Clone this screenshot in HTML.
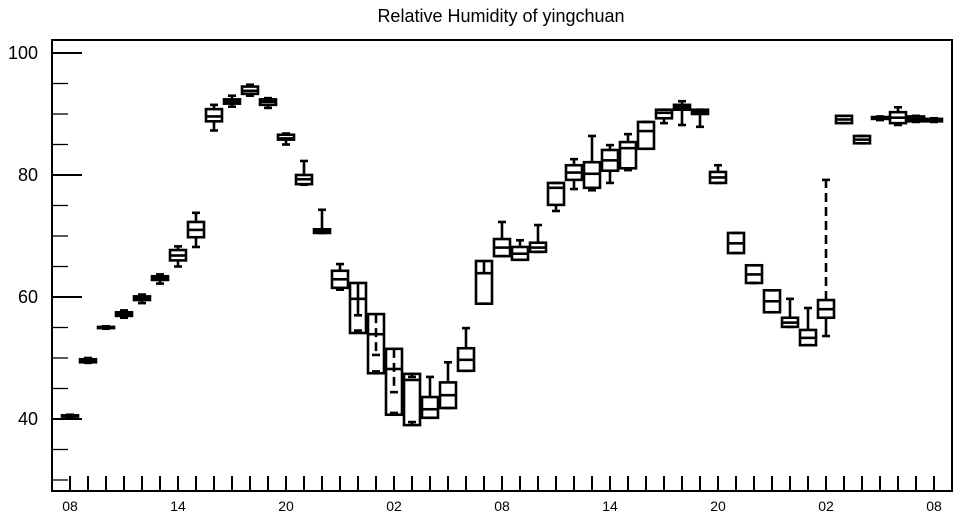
<!DOCTYPE html>
<html><head><meta charset="utf-8"><style>
body{margin:0;background:#fff}
svg{display:block;font-family:"Liberation Sans",sans-serif}
</style></head><body>
<svg id="chart" width="957" height="520">
<text x="501" y="22" text-anchor="middle" font-size="18">Relative Humidity of yingchuan</text>
<g id="axes"></g><g id="boxes"></g>
</svg>
<script>
const xLabels=["08","14","20","02","08","14","20","02","08"];
const yTicks=[40,60,80,100];
const mins=[40.3,49.2,54.8,56.6,59,62.2,65,68.2,87.3,91.2,93,91,85,78.4,70.5,61.2,54.5,47.8,41,39.5,40.2,41.8,47.9,58.9,66.7,66.1,67.4,74.1,77.7,77.5,78.7,80.8,84.3,88.5,88.2,87.9,78.7,67.2,62.3,57.5,55.1,52.1,53.6,88.5,85.2,89,88.2,88.7,88.7];
const q1s=[40.4,49.3,54.9,56.9,59.5,62.8,66,69.8,88.8,91.7,93.3,91.5,85.8,78.5,70.5,61.5,54.1,47.5,40.7,39,40.2,41.8,47.9,58.9,66.7,66.1,67.4,75.1,79.2,77.9,80.7,81.1,84.3,89.3,90.7,90,78.7,67.2,62.3,57.5,55.1,52.1,56.6,88.5,85.2,89.2,88.5,88.8,88.8];
const medians=[40.5,49.5,55,57.2,59.8,63.1,66.8,71,89.6,92,93.8,92,86,79.3,70.8,62.9,59.7,53.9,48.2,46.4,41.6,43.9,49.7,63.9,68.1,67.1,68.1,77.9,80.4,80.2,82.4,84.4,87.2,90.2,91.1,90.3,79.6,68.8,63.7,59.3,55.8,53.3,58,89.1,85.8,89.3,89.4,89.2,89];
const q3s=[40.6,49.8,55.1,57.5,60.1,63.4,67.7,72.3,90.8,92.4,94.5,92.4,86.6,80,71.1,64.3,62.3,57.2,51.5,47.4,43.6,46,51.6,65.9,69.5,68.2,68.9,78.7,81.6,82.1,84.1,85.4,88.7,90.7,91.5,90.7,80.5,70.5,65.2,61.1,56.6,54.6,59.5,89.7,86.4,89.5,90.3,89.6,89.2];
const maxs=[40.7,50,55.2,57.8,60.4,63.7,68.3,73.8,91.5,93,94.8,92.6,86.8,82.3,74.3,65.4,57,50.5,44.4,46.9,46.9,49.3,54.9,63.9,72.3,69.3,71.8,78.7,82.6,86.4,84.9,86.7,88.7,90.7,92.1,90.7,81.6,70.5,65.2,61.1,59.7,58.2,79.2,89.7,86.4,89.6,91.1,89.7,89.3];
const NS="http://www.w3.org/2000/svg";
const L=52,R=952,T=40,B=491,X0=70,DX=18;
function yS(v){return 419-(v-40)*6.1;}
function xS(i){return X0+DX*i;}
function mk(tag,attrs,parent){const e=document.createElementNS(NS,tag);for(const k in attrs)e.setAttribute(k,attrs[k]);parent.appendChild(e);return e;}
const ax=document.getElementById('axes'),bx=document.getElementById('boxes');
const frame=mk('rect',{x:L,y:T,width:R-L,height:B-T,fill:'none',stroke:'#000','stroke-width':2},ax);


for(let v=30;v<=100;v+=5){
 const major=yTicks.includes(v);
 const t=mk('line',{x1:L,x2:L+(major?30:16),y1:yS(v),y2:yS(v),stroke:'#000','stroke-width':major?2:1.3},ax);
 
 
}
yTicks.forEach(v=>{
 const t=mk('text',{x:38,y:yS(v)+6,'text-anchor':'end','font-size':18},ax);t.textContent=v;
 
 
});
for(let i=0;i<mins.length;i++){
 const t=mk('line',{x1:xS(i),x2:xS(i),y1:B,y2:B-15,stroke:'#000','stroke-width':2},ax);
 
 
}
xLabels.forEach((s,k)=>{
 const t=mk('text',{x:xS(k*6),y:511,'text-anchor':'middle','font-size':14},ax);t.textContent=s;
 
 
});
for(let i=0;i<mins.length;i++){
 const g=mk('g',{stroke:'#000','stroke-width':2.6,fill:'none'},bx);
 
 
 const x=xS(i);
 const up=Math.abs(yS(q3s[i])-yS(maxs[i])), dn=Math.abs(yS(q1s[i])-yS(mins[i]));
 mk('line',{x1:x,x2:x,y1:yS(q3s[i]),y2:yS(maxs[i]),'stroke-dasharray':up>40?'9,5':'none'},g);
 mk('line',{x1:x,x2:x,y1:yS(q1s[i]),y2:yS(mins[i]),'stroke-dasharray':dn>40?'9,5':'none'},g);
 mk('line',{x1:x-4,x2:x+4,y1:yS(maxs[i]),y2:yS(maxs[i])},g);
 mk('line',{x1:x-4,x2:x+4,y1:yS(mins[i]),y2:yS(mins[i])},g);
 mk('rect',{x:x-8,y:yS(q3s[i]),width:16,height:Math.max(1,yS(q1s[i])-yS(q3s[i])),fill:'none'},g);
 mk('line',{x1:x-8,x2:x+8,y1:yS(medians[i]),y2:yS(medians[i])},g);
}
</script>
</body></html>
